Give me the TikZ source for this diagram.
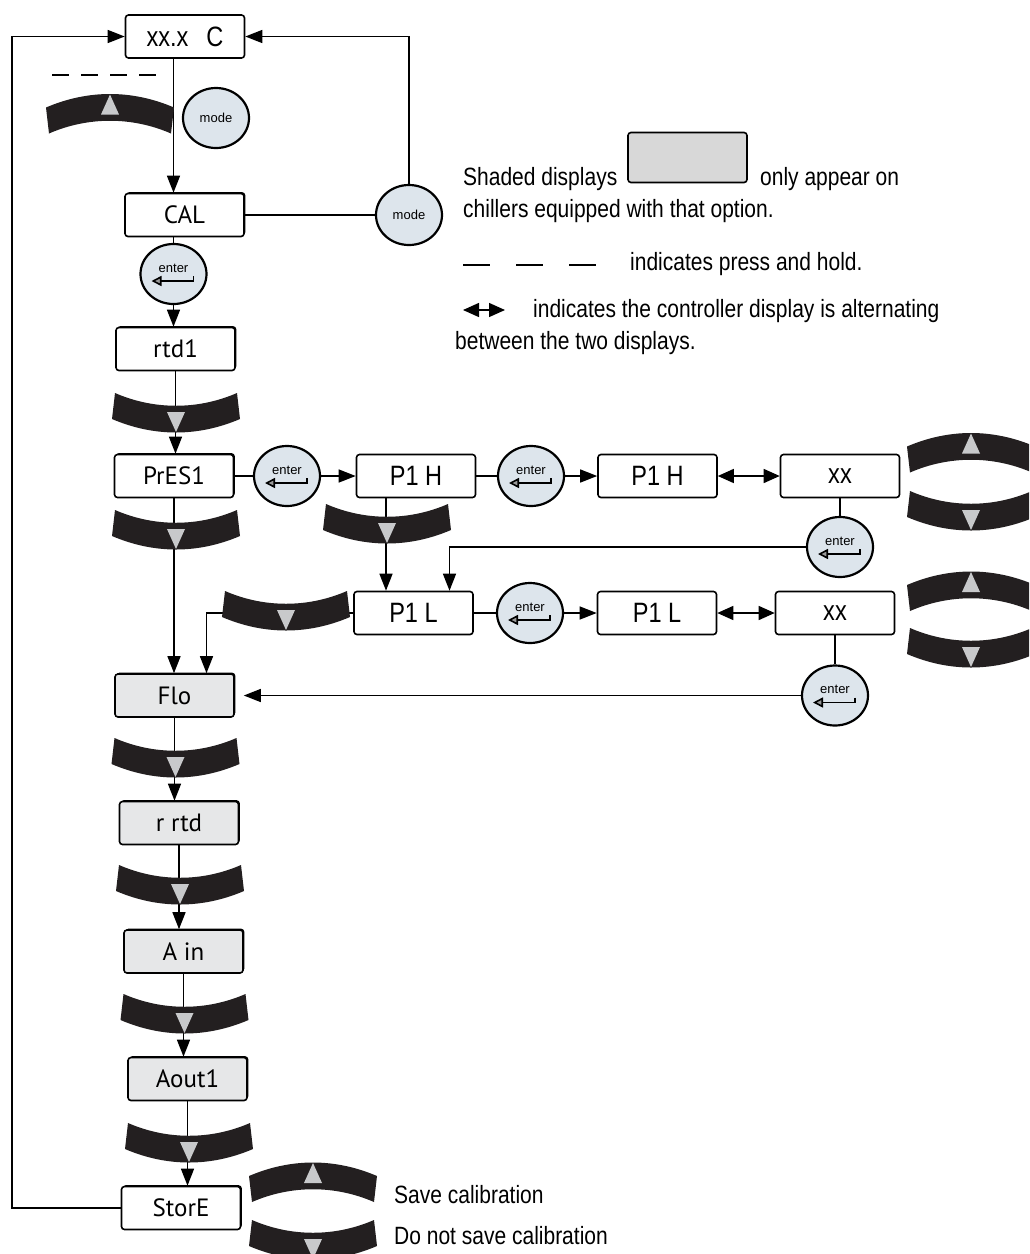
\documentclass[tikz,border=0pt]{standalone}
\usepackage{fontspec}
\setmainfont{Liberation Sans}[FakeStretch=0.84]
\newfontfamily\dispfont{PT Sans}
\newfontfamily\keyfont{Liberation Sans}
\usetikzlibrary{arrows.meta,shapes.geometric,shadows}

\definecolor{keyblack}{HTML}{231F20}
\definecolor{trigray}{HTML}{C8C9CB}
\definecolor{keyfill}{HTML}{DDE5EC}
\definecolor{shade}{HTML}{E6E7E8}
\definecolor{legendshade}{HTML}{D8D8D8}

\newcommand\legendsize{\fontsize{25}{30}\selectfont}

\tikzset{
  disp/.style={draw, line width=1.6pt, rounded corners=3pt, fill=white,
    minimum width=119pt, minimum height=43pt, inner sep=0pt,
    font=\dispfont\fontsize{25}{25}\selectfont},
  dispc/.style={disp, font=\fontsize{28}{28}\selectfont},
  raised/.style={general shadow={fill=black, shadow xshift=1.3pt, shadow yshift=1.3pt}},
  shaded/.style={fill=shade},
  keyring/.style={ellipse, draw, line width=2.2pt, fill=keyfill,
    minimum width=66pt, minimum height=60pt, inner sep=0pt},
  modekey/.style={keyring, font=\keyfont\fontsize{13}{13}\selectfont},
  enterkey/.style={keyring, path picture={
    \node[font=\keyfont\fontsize{13}{13}\selectfont] at ([yshift=6pt]path picture bounding box.center) {enter};
    \draw[line width=1.6pt, -{Triangle[length=10pt,width=10pt,fill=gray!80]}]
      ([xshift=20pt,yshift=-2pt]path picture bounding box.center)
      -- ([xshift=20pt,yshift=-7pt]path picture bounding box.center)
      -- ([xshift=-22pt,yshift=-7pt]path picture bounding box.center);}},
  link/.style={line width=1.4pt},
  arr/.style={link, -{Triangle[length=17pt,width=13pt]}},
  dbl/.style={link, {Triangle[length=16pt,width=14pt]}-{Triangle[length=16pt,width=14pt]}},
  txt/.style={anchor=base west, inner sep=0pt, font=\legendsize},
  dnkey/.pic={
    \fill[keyblack] (-61,-20) .. controls (-22,-3) and (22,-3) .. (61,-20)
      -- (64,6) .. controls (22,24) and (-22,24) .. (-64,6) -- cycle;
    \fill[trigray] (-9,-1) -- (9,-1) -- (0,19) -- cycle;
  },
  upkey/.pic={
    \fill[keyblack] (-61,20) .. controls (-22,3) and (22,3) .. (61,20)
      -- (64,-6) .. controls (22,-24) and (-22,-24) .. (-64,-6) -- cycle;
    \fill[trigray] (-9,1) -- (9,1) -- (0,-19) -- cycle;
  },
}

\begin{document}
\begin{tikzpicture}[x=1pt,y=-1pt]
  \useasboundingbox (0,0) rectangle (1029,1254);
  \clip (0,0) rectangle (1029,1254);

  % main column
  \node[dispc] (xxc) at (185,36.5) {xx.x\hspace{18pt}C};
  \node[modekey] (mode0) at (216,118) {mode};
  \node[disp, raised] (cal) at (184.5,215) {CAL};
  \node[modekey] (mode1) at (409,215) {mode};
  \node[enterkey] (ent0) at (173.5,274) {};
  \node[disp, raised] (rtd1) at (175.5,349) {rtd1};
  \node[disp, raised] (pres1) at (174,476) {PrES1};
  \node[disp, raised, shaded] (flo) at (174.5,695.5) {Flo};
  \node[disp, raised, shaded] (rrtd) at (179,823) {r rtd};
  \node[disp, raised, shaded] (ain) at (183.5,951.5) {A in};
  \node[disp, raised, shaded] (aout) at (187.5,1079) {Aout1};
  \node[disp, raised] (stor) at (181,1208) {StorE};
  \coordinate (back) at (12,36.5);

  % high / low pressure rows
  \node[enterkey] (ent1) at (287,476) {};
  \node[dispc] (p1h) at (416,476) {P1 H};
  \node[enterkey] (ent2) at (531,476) {};
  \node[dispc] (p1h2) at (657.5,476) {P1 H};
  \node[dispc] (xx1) at (840,476) {xx};
  \node[enterkey] (ent3) at (840,547) {};
  \node[dispc] (p1l) at (413.5,613) {P1 L};
  \node[enterkey] (ent4) at (530,613) {};
  \node[dispc] (p1l2) at (657,613) {P1 L};
  \node[dispc] (xx2) at (835,613) {xx};
  \node[enterkey] (ent5) at (835,695.5) {};

  % legend
  \node[disp, fill=legendshade, minimum height=50pt] (keybox) at (687.5,157.5) {};
  \node[txt] (shadetxt) at (463,185) {Shaded displays};
  \node[txt] (onlytxt) at (760,185) {only appear on};
  \node[txt] (chilltxt) at (463,217) {chillers equipped with that option.};
  \draw[line width=2.5pt, dash pattern=on 27pt off 26pt] (463,265) -- (596,265);
  \node[txt] (holdtxt) at (630,270) {indicates press and hold.};
  \draw[dbl] (463,310) -- (505,310);
  \node[txt] (alttxt) at (533,317) {indicates the controller display is alternating};
  \node[txt] (bothtxt) at (455,349) {between the two displays.};
  \node[txt] (savetxt) at (394,1203) {Save calibration};
  \node[txt] (nosavetxt) at (394,1244) {Do not save calibration};

  % connectors
  \draw[arr] (xxc.south -| ent0) -- (cal.north -| ent0);
  \draw[link] (cal.east) -- (mode1);
  \draw[arr] (mode1) |- (xxc.east);
  \draw[link] (cal.south -| ent0) -- (ent0);
  \draw[arr] (ent0) -- (rtd1.north -| ent0);
  \draw[arr] (rtd1.south) -- (rtd1.south |- pres1.north);
  \draw[link] (pres1.east) -- (ent1);
  \draw[arr] (ent1) -- (p1h);
  \draw[link] (p1h) -- (ent2);
  \draw[arr] (ent2) -- (p1h2);
  \draw[dbl] (p1h2) -- (xx1);
  \draw[link] (xx1) -- (ent3);
  \draw[arr] (ent3) -| ([xshift=36pt]p1l.north);
  \draw[arr] ([xshift=-30pt]p1h.south) -- ([xshift=-30pt]p1h.south |- p1l.north);
  \draw[link] (p1l) -- (ent4);
  \draw[arr] (ent4) -- (p1l2);
  \draw[dbl] (p1l2) -- (xx2);
  \draw[link] (xx2) -- (ent5);
  \draw[arr, shorten >=9pt] (ent5) -- (flo);
  \draw[arr] (p1l.west) -| ([xshift=32pt]flo.north);
  \draw[arr] (pres1.south) -- (pres1.south |- flo.north);
  \draw[arr] (flo.south) -- (flo.south |- rrtd.north);
  \draw[arr] (rrtd.south) -- (rrtd.south |- ain.north);
  \draw[arr] (ain.south) -- (ain.south |- aout.north);
  \draw[arr] (aout.south) -- (aout.south |- stor.north);
  \draw[arr] (stor.west) -| (back) -- (xxc.west);
  \draw[line width=2pt, dash pattern=on 17pt off 12pt] (52,75) -- (157,75);

  % arrow keys
  \pic at (110,113.5) {upkey};
  \pic at (176,413) {dnkey};
  \pic at (176,530) {dnkey};
  \pic at (387,524) {dnkey};
  \pic at (286,611) {dnkey};
  \pic at (175.5,758) {dnkey};
  \pic at (180,885) {dnkey};
  \pic at (184.5,1014) {dnkey};
  \pic at (189,1143) {dnkey};
  \pic at (313,1182) {upkey};
  \pic at (313,1240) {dnkey};
  \pic at (971,452.5) {upkey};
  \pic at (971,511) {dnkey};
  \pic at (971,591) {upkey};
  \pic at (971,648) {dnkey};
\end{tikzpicture}
\end{document}
